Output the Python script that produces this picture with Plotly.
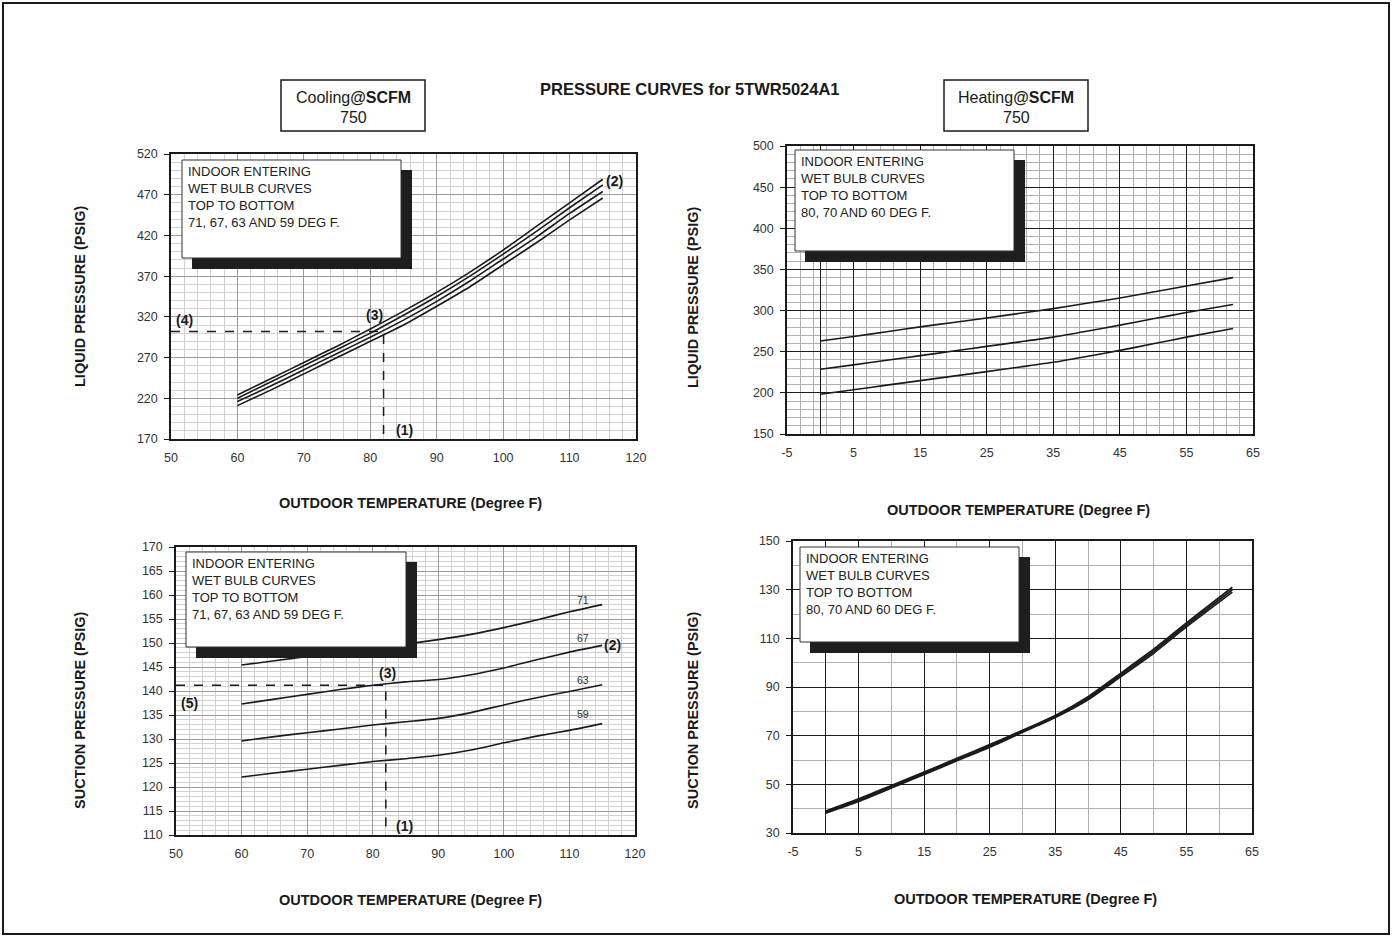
import plotly.graph_objects as go

W, H = 1393, 938

# ---------------------------- DONNEES ----------------------------- #
# Refroidissement : temperature exterieure (F)
cool_temp = [60, 65, 70, 75, 80, 85, 90, 95, 100, 105, 110, 115]

# Pression liquide (PSIG), bulbe humide interieur 71 / 67 / 63 / 59 F
cool_liquid_71 = [224, 244, 264, 284, 305, 327, 350, 375, 402, 431, 460, 489]
cool_liquid_67 = [220, 240, 260, 280, 300, 322, 345, 370, 397, 425, 454, 482]
cool_liquid_63 = [216, 235, 255, 275, 295, 316, 339, 364, 391, 418, 447, 474]
cool_liquid_59 = [211, 230, 250, 270, 290, 310, 333, 357, 384, 411, 439, 466]

# Pression aspiration (PSIG)
cool_suction_71 = [145.4, 146.3, 147.2, 148.1, 149.0, 149.8, 150.7, 151.8, 153.2, 154.8, 156.5, 158.0]
cool_suction_67 = [137.3, 138.3, 139.3, 140.3, 141.2, 141.9, 142.4, 143.4, 144.8, 146.5, 148.1, 149.5]
cool_suction_63 = [129.6, 130.5, 131.3, 132.1, 132.9, 133.6, 134.3, 135.5, 137.1, 138.6, 139.9, 141.3]
cool_suction_59 = [122.1, 122.9, 123.7, 124.5, 125.3, 125.9, 126.6, 127.7, 129.2, 130.6, 131.8, 133.2]
cool_wb_labels = ["71", "67", "63", "59"]

# Exemple de lecture (1)-(5)
example_temp = 82
example_liquid = 302
example_suction = 141.2

# Chauffage : temperature exterieure (F)
heat_temp = [0, 5, 10, 15, 20, 25, 30, 35, 40, 45, 50, 55, 62]

# Pression liquide (PSIG), bulbe humide interieur 80 / 70 / 60 F
heat_liquid_80 = [263, 268.5, 274.3, 280.2, 285.6, 291, 296.7, 302.4, 308.8, 315.3, 322.5, 329.8, 340]
heat_liquid_70 = [228.6, 234, 239.6, 245.2, 250.8, 256.5, 262, 267.7, 274.8, 282.3, 290, 297.6, 307.3]
heat_liquid_60 = [198.4, 203.8, 209.4, 214.9, 220.3, 225.8, 231.4, 237.1, 244.2, 251.6, 259.6, 267.7, 278.2]

# Pression aspiration (PSIG)
heat_suction_80 = [39.0, 44.0, 49.5, 55.0, 60.7, 66.3, 72.2, 78.3, 86.0, 95.7, 105.5, 116.3, 131.0]
heat_suction_70 = [38.6, 43.5, 49.0, 54.6, 60.2, 65.8, 71.8, 77.9, 85.4, 95.0, 104.7, 115.5, 130.0]
heat_suction_60 = [38.2, 43.0, 48.5, 54.1, 59.7, 65.3, 71.4, 77.5, 84.8, 94.3, 103.9, 114.7, 129.0]

# Graduations de l'axe chauffage (avec un tiret simple comme signe moins)
heat_ticks = [-5, 5, 15, 25, 35, 45, 55, 65]

FONT = "Liberation Sans, Arial, sans-serif"
NARROW = "Liberation Sans Narrow, Liberation Sans, Arial, sans-serif"
INK = "#1a1a1a"


def px(x):
    return x / W


def py(y):
    return 1 - y / H


def axis(dom, rng, tick0, dtick, mtick0, mdtick, major_col, minor_col,
         anchor, ticks="", zeroline=False, minor_w=1, standoff=6, ticklabels=None):
    ax = dict(
        domain=dom, range=rng, anchor=anchor, automargin=False,
        tick0=tick0, dtick=dtick, tickmode="linear",
        showgrid=True, gridcolor=major_col, gridwidth=1,
        minor=dict(tickmode="linear", tick0=mtick0, dtick=mdtick, showgrid=True,
                   gridcolor=minor_col, gridwidth=minor_w),
        showline=True, linecolor=INK, linewidth=1.5, mirror=True,
        ticks=ticks, ticklen=5, tickcolor=INK,
        ticklabelstandoff=standoff,
        zeroline=zeroline, zerolinecolor=INK, zerolinewidth=1.2,
        tickfont=dict(family=FONT, size=12.5, color="#333"),
        fixedrange=True,
    )
    if ticklabels is not None:
        ax.update(tickmode="array", tickvals=ticklabels,
                  ticktext=[str(v) for v in ticklabels])
    return ax


fig = go.Figure()


def add_curve(x, y, xa, ya, width=1.6):
    fig.add_trace(go.Scatter(
        x=x, y=y, mode="lines", xaxis=xa, yaxis=ya,
        line=dict(color=INK, width=width, shape="spline", smoothing=0.6),
        showlegend=False, hoverinfo="skip",
    ))


# Refroidissement - liquide
for s in [cool_liquid_71, cool_liquid_67, cool_liquid_63, cool_liquid_59]:
    add_curve(cool_temp, s, "x", "y")
fig.add_trace(go.Scatter(
    x=[50, example_temp, example_temp], y=[example_liquid, example_liquid, 170],
    mode="lines", xaxis="x", yaxis="y", showlegend=False, hoverinfo="skip",
    line=dict(color=INK, width=1.5, dash="dash")))

# Chauffage - liquide
for s in [heat_liquid_80, heat_liquid_70, heat_liquid_60]:
    add_curve(heat_temp, s, "x2", "y2")

# Refroidissement - aspiration
for s in [cool_suction_71, cool_suction_67, cool_suction_63, cool_suction_59]:
    add_curve(cool_temp, s, "x3", "y3")
fig.add_trace(go.Scatter(
    x=[50, example_temp, example_temp], y=[example_suction, example_suction, 110],
    mode="lines", xaxis="x3", yaxis="y3", showlegend=False, hoverinfo="skip",
    line=dict(color=INK, width=1.5, dash="dash")))

# Chauffage - aspiration
for s in [heat_suction_80, heat_suction_70, heat_suction_60]:
    add_curve(heat_temp, s, "x4", "y4", width=1.8)

COOL_MAJ, COOL_MIN = "#9a9a9a", "#d2d2d2"
HEAT_MAJ, HEAT_MIN = "#1a1a1a", "#b0b0b0"

fig.update_layout(
    width=W, height=H, autosize=False,
    margin=dict(l=0, r=0, t=0, b=0, autoexpand=False),
    paper_bgcolor="white", plot_bgcolor="white",
    font=dict(family=FONT, color="#222"),
    xaxis=axis([px(171), px(636)], [50, 120], 50, 10, 50, 2, COOL_MAJ, COOL_MIN, "y"),
    yaxis=axis([py(439), py(154)], [170, 520], 170, 50, 170, 10, COOL_MAJ, COOL_MIN, "x",
               ticks="outside", standoff=4),
    xaxis2=axis([px(787), px(1253)], [-5, 65], -5, 10, -5, 2, HEAT_MAJ, HEAT_MIN, "y2",
                zeroline=True, ticklabels=heat_ticks),
    yaxis2=axis([py(434), py(146)], [150, 500], 150, 50, 150, 10, HEAT_MAJ, HEAT_MIN, "x2",
                ticks="outside", standoff=4),
    xaxis3=axis([px(176), px(635)], [50, 120], 50, 10, 50, 2, COOL_MAJ, COOL_MIN, "y3"),
    yaxis3=axis([py(835), py(547)], [110, 170], 110, 5, 110, 1, COOL_MAJ, COOL_MIN, "x3",
                ticks="outside", standoff=4),
    xaxis4=axis([px(793), px(1252)], [-5, 65], -5, 10, -5, 5, HEAT_MAJ, HEAT_MIN, "y4",
                zeroline=True, ticklabels=heat_ticks),
    yaxis4=axis([py(833), py(541)], [30, 150], 30, 20, 30, 10, HEAT_MAJ, HEAT_MIN, "x4",
                ticks="outside", standoff=4),
)

shapes = [dict(type="rect", xref="paper", yref="paper",
               x0=px(3), x1=px(1389), y0=py(934), y1=py(3),
               line=dict(color=INK, width=2))]
annots = []


def text_at(x, y, t, size, **kw):
    d = dict(x=px(x), y=py(y), xref="paper", yref="paper", text=t,
             showarrow=False, xanchor="center", yanchor="middle",
             font=dict(family=FONT, size=size, color=INK))
    d.update(kw)
    annots.append(d)


# Boites d'en-tete
for x0, label in [(281, "Cooling"), (944, "Heating")]:
    shapes.append(dict(type="rect", xref="paper", yref="paper",
                       x0=px(x0), x1=px(x0 + 144), y0=py(131), y1=py(80),
                       line=dict(color=INK, width=1.5), fillcolor="white"))
    text_at(x0 + 72, 97, label + "<b>@SCFM</b>", 16,
            font=dict(family=NARROW, size=16, color=INK))
    text_at(x0 + 72, 118, "750", 16, font=dict(family=NARROW, size=16, color=INK))

text_at(690, 89, "<b>PRESSURE CURVES for 5TWR5024A1</b>", 16.5)

# Boites de legende avec ombre
cool_txt = "INDOOR ENTERING<br>WET BULB CURVES<br>TOP TO BOTTOM<br>71, 67, 63 AND 59 DEG F."
heat_txt = "INDOOR ENTERING<br>WET BULB CURVES<br>TOP TO BOTTOM<br>80, 70 AND 60 DEG F."
for (bx0, by0, bx1, by1), txt in [((182, 160, 401, 258), cool_txt),
                                   ((795, 150, 1014, 251), heat_txt),
                                   ((186, 552, 406, 647), cool_txt),
                                   ((800, 547, 1019, 642), heat_txt)]:
    shapes.append(dict(type="rect", xref="paper", yref="paper",
                       x0=px(bx0 + 10), x1=px(bx1 + 11), y0=py(by1 + 11), y1=py(by0 + 10),
                       line=dict(width=0), fillcolor="#1e1e1e"))
    shapes.append(dict(type="rect", xref="paper", yref="paper",
                       x0=px(bx0), x1=px(bx1), y0=py(by1), y1=py(by0),
                       line=dict(color="#333", width=1), fillcolor="white"))
    text_at(bx0 + 4, by0 + 2, txt, 13, xanchor="left", yanchor="top", align="left",
            font=dict(family=FONT, size=13, color="#222"))

# Titres d'axes
for cx, cy in [(410, 503), (1018, 510), (410, 900), (1025, 899)]:
    text_at(cx, cy, "<b>OUTDOOR TEMPERATURE (Degree F)</b>", 14.5)
for cx, cy, t in [(80, 297, "LIQUID PRESSURE (PSIG)"),
                  (693, 298, "LIQUID PRESSURE (PSIG)"),
                  (80, 710, "SUCTION PRESSURE (PSIG)"),
                  (693, 710, "SUCTION PRESSURE (PSIG)")]:
    text_at(cx, cy, "<b>" + t + "</b>", 14.5, textangle=-90)

# Reperes (1)-(5)
marks = [("x", "y", 52.1, 316, "(4)"), ("x", "y", 80.7, 322, "(3)"),
         ("x", "y", 116.8, 487, "(2)"), ("x", "y", 85.2, 181, "(1)"),
         ("x3", "y3", 52.1, 137.5, "(5)"), ("x3", "y3", 82.2, 143.8, "(3)"),
         ("x3", "y3", 116.6, 149.6, "(2)"), ("x3", "y3", 84.8, 111.9, "(1)")]
for xa, ya, x, y, t in marks:
    annots.append(dict(x=x, y=y, xref=xa, yref=ya, text="<b>" + t + "</b>",
                       showarrow=False, xanchor="center", yanchor="middle",
                       font=dict(family=FONT, size=14, color=INK)))

for lbl, y in zip(cool_wb_labels, [159, 151, 142.3, 135.2]):
    annots.append(dict(x=112.1, y=y, xref="x3", yref="y3", text=lbl,
                       showarrow=False, xanchor="center", yanchor="middle",
                       font=dict(family=FONT, size=10.5, color="#333")))

fig.update_layout(shapes=shapes, annotations=annots)

fig.write_html(
    "out.html",
    config=dict(displayModeBar=False),
    post_script="document.body.style.margin='0';document.body.style.overflow='hidden';",
)
